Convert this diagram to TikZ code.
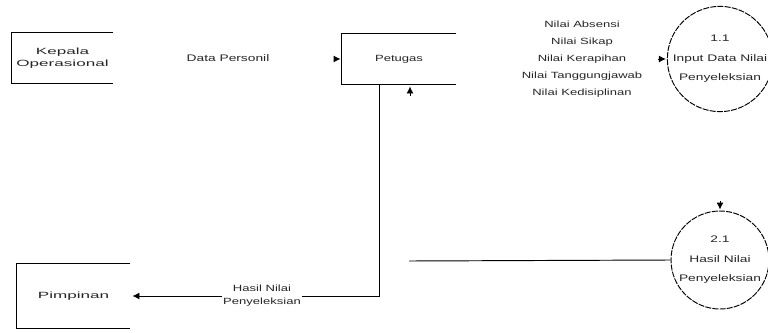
\documentclass[tikz,border=0pt]{standalone}
\usepackage{fontspec}
\setmainfont{Liberation Sans}[FakeStretch=1.45]
\newfontfamily\widefont{Liberation Sans}[FakeStretch=1.9]
\usetikzlibrary{arrows.meta}
\begin{document}
\begin{tikzpicture}[x=1pt,y=-1pt,
  line width=0.95pt,
  ent/.style={inner sep=0pt, text=black!85, font=\widefont\fontsize{9}{12}\selectfont, align=center},
  proc/.style={circle, draw, dash pattern=on 6pt off 1.2pt, inner sep=0pt, minimum size=98pt,
    text=black!85, font=\fontsize{9.5}{19.5}\selectfont, align=center},
  lab/.style={inner sep=1pt, text=black!85, align=center},
  tip/.style={-{Latex[length=7pt,width=7pt]}},
]
\useasboundingbox (0,0) rectangle (768,332);

% entities (open boxes)
\node[ent, minimum width=101pt, minimum height=50pt] (k) at (62.5,58) {Kepala\\Operasional};
\draw (k.north east) -- (k.north west) -- (k.south west) -- (k.south east);

\node[ent, font=\fontsize{9}{12}\selectfont, minimum width=114pt, minimum height=50pt] (p) at (399,59) {Petugas};
\draw (p.north east) -- (p.north west) -- (p.south west) -- (p.south east);

\node[ent, minimum width=113pt, minimum height=64pt] (pim) at (73.5,296) {Pimpinan};
\draw (pim.north east) -- (pim.north west) -- (pim.south west) -- (pim.south east);

% processes
\node[proc] (c1) at (720,59) {1.1\\Input Data Nilai\\Penyeleksian};
\node[proc] (c2) at (720,260) {2.1\\Hasil Nilai\\Penyeleksian};

% flows
\node[lab, font=\fontsize{9.5}{12}\selectfont] (dp) at (228,58) {Data Personil};
\draw[tip] ([xshift=-8pt]p.west) -- ([xshift=-1pt]p.west);

\node[lab, font=\fontsize{9}{17}\selectfont] (nl) at (582,59) {Nilai Absensi\\Nilai Sikap\\Nilai Kerapihan\\Nilai Tanggungjawab\\Nilai Kedisiplinan};
\draw[tip] ([xshift=-9pt]c1.west) -- ([xshift=-1pt]c1.west);

\draw[tip] ([yshift=10pt]c2.north) -- ([yshift=1pt]c2.north);

\draw[tip, shorten >=2pt] ([xshift=-20pt]p.south) |- (pim.east);
\node[lab, fill=white, font=\fontsize{9}{13}\selectfont] (hn) at (262,296) {Hasil Nilai\\Penyeleksian};

\coordinate (e) at (409,261);
\draw (c2.west) -- (e);
\draw[tip] ([xshift=11pt,yshift=-12pt]p.south) -- ([xshift=11pt,yshift=-2pt]p.south);
\end{tikzpicture}
\end{document}
